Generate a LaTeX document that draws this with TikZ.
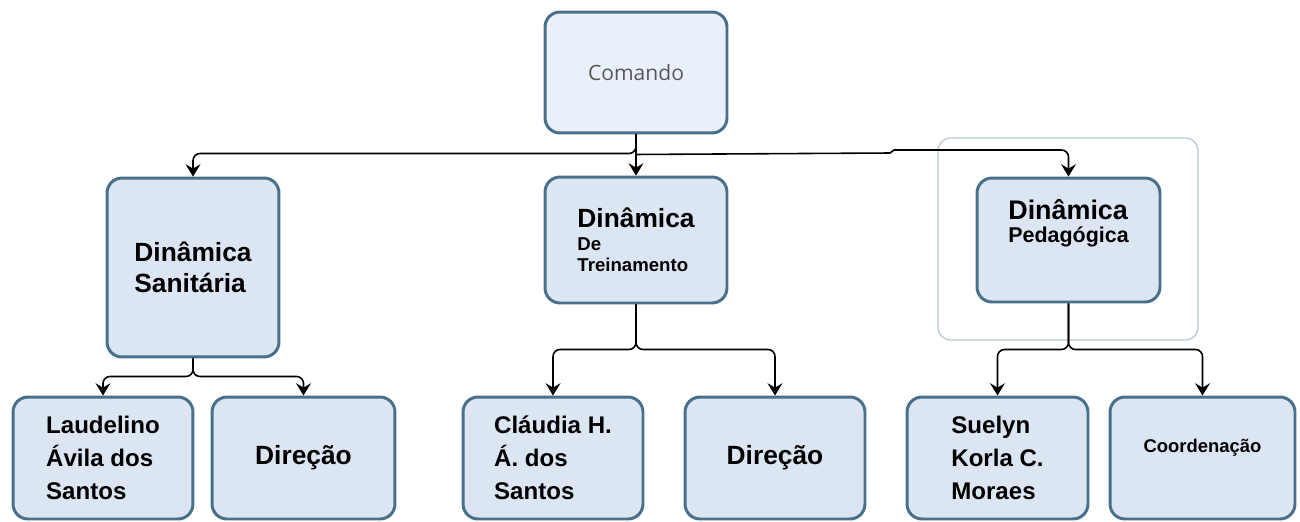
\documentclass[tikz,border=0pt]{standalone}
\usepackage{fontspec}
\setmainfont{Liberation Sans}
\newfontfamily\cmdfont{Open Sans}
\usetikzlibrary{arrows.meta}
\definecolor{caixa}{RGB}{220,230,242}
\definecolor{caixaclara}{RGB}{234,240,250}
\definecolor{borda}{RGB}{72,112,138}
\definecolor{moldura}{RGB}{185,198,206}

\begin{document}
\begin{tikzpicture}[x=0.02cm, y=-0.02cm,
    caixa/.style={draw=borda, line width=1.7pt, fill=caixa, rounded corners=0.3cm,
        align=left, inner sep=0pt, font=\bfseries},
    nome/.style={caixa, minimum width=3.6cm, minimum height=2.44cm,
        font=\bfseries\fontsize{13.7}{18.9}\selectfont},
    link/.style={draw=black, line width=0.9pt, rounded corners=4pt,
        -{Stealth[length=7pt, width=8.5pt, inset=2.5pt]}}]
        \useasboundingbox (0,0) rectangle (1300,521);

        % moldura
        \draw[moldura, line width=0.7pt, rounded corners=0.25cm] (938,138) rectangle (1198,340);

        % comando
        \node[caixa, fill=caixaclara, minimum width=3.64cm, minimum height=2.42cm,
            font=\cmdfont\fontsize{12}{14}\selectfont, text=black!65] (cmd) at (636,72.5) {Comando};

        % dinamicas
        \node[caixa, minimum width=3.44cm, minimum height=3.58cm,
            font=\bfseries\fontsize{15}{17.6}\selectfont] (san) at (193,267.5) {Dinâmica\\Sanitária};
        \node[caixa, minimum width=3.64cm, minimum height=2.52cm] (tre) at (636,240)
            {{\fontsize{15}{14}\selectfont Dinâmica}\\[1pt]{\fontsize{10.6}{13}\selectfont De}\\{\fontsize{10.6}{12.5}\selectfont Treinamento}};
        \node[caixa, minimum width=3.66cm, minimum height=2.48cm, text depth=22pt] (ped) at (1068.5,240)
            {{\fontsize{15.3}{14}\selectfont Dinâmica}\\[1pt]{\fontsize{12.2}{13}\selectfont Pedagógica}};

        % nomes
        \node[nome] (lau) at (103,458) {Laudelino\\Ávila dos\\Santos};
        \node[nome, minimum width=3.66cm, font=\bfseries\fontsize{15}{18}\selectfont] (dir1) at (303.5,458) {Direção};
        \node[nome] (cla) at (553,458) {Cláudia H.\\Á. dos\\Santos};
        \node[nome, font=\bfseries\fontsize{15}{18}\selectfont] (dir2) at (775,458) {Direção};
        \node[nome, minimum width=3.62cm] (sue) at (997.5,458) {Suelyn\\Korla C.\\Moraes};
        \node[nome, minimum width=3.7cm, text depth=14pt,
            font=\bfseries\fontsize{10.5}{12}\selectfont] (coo) at (1202.5,458) {Coordenação};

        % ligacoes do comando
        \coordinate (degrau) at (890,153);
        \draw[link] (cmd.south) -- ++(0,19) -| (san.north);
        \draw[link] (cmd.south) -- (tre.north);
        \draw[link, rounded corners=0pt] (cmd.south) -- ++(0,20) -- (degrau) -- ++(4,-3)
            [rounded corners=4pt] -| (ped.north);

        % ligacoes das dinamicas
        \draw[link] (san.south) -- ++(0,18) -| (lau.north);
        \draw[link] (san.south) -- ++(0,18) -| (dir1.north);
        \draw[link] (tre.south) -- ++(0,45) -| (cla.north);
        \draw[link] (tre.south) -- ++(0,45) -| (dir2.north);
        \draw[link] (ped.south) -- ++(0,46) -| (sue.north);
        \draw[link] (ped.south) -- ++(0,46) -| (coo.north);

\end{tikzpicture}
\end{document}
